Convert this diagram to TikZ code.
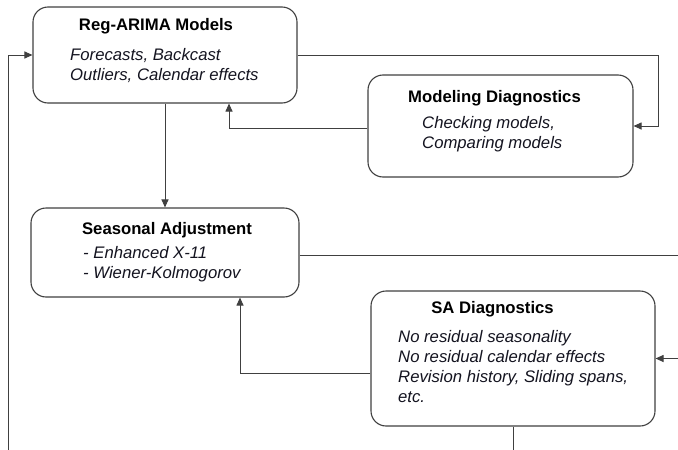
\documentclass[tikz,border=0pt]{standalone}
\usepackage{fontspec}
\setmainfont{Liberation Sans}
\usetikzlibrary{arrows.meta,calc}
\definecolor{linec}{HTML}{404040}
\definecolor{txt}{HTML}{141420}
\tikzset{
  box/.style={draw=linec, line width=1.1pt, rounded corners=15pt, fill=white, inner sep=0pt},
  ttl/.style={font=\fontsize{16.7}{20}\selectfont\bfseries, text=black, inner sep=0pt, anchor=base},
  body/.style={font=\fontsize{16.7}{20}\selectfont\itshape, text=txt, inner sep=0pt, anchor=base west, align=left},
  conn/.style={draw=linec, line width=1pt},
  arr/.style={conn, -{Triangle[length=8pt,width=7pt]}}
}
\begin{document}
\begin{tikzpicture}[x=1pt,y=-1pt]
\useasboundingbox (0,0) rectangle (678,450);
% boxes
\node[box, minimum width=264pt, minimum height=96pt] (ra) at (165,55) {};
\node[box, minimum width=265pt, minimum height=102pt] (md) at (500.5,126) {};
\node[box, minimum width=268pt, minimum height=89pt] (sa) at (165,252.5) {};
\node[box, minimum width=284pt, minimum height=135pt] (sad) at (513,358.5) {};
% texts (multi-line nodes anchored at last line's baseline)
\node[ttl] (raT) at (156,30) {Reg-ARIMA Models};
\node[body] (raB) at (70,80) {Forecasts, Backcast\\Outliers, Calendar effects};
\node[ttl] (mdT) at (494.5,102) {Modeling Diagnostics};
\node[body] (mdB) at (422,148) {Checking models,\\Comparing models};
\node[ttl] (saT) at (167,234) {Seasonal Adjustment};
\node[body] (saB) at (83,278) {- Enhanced X-11\\- Wiener-Kolmogorov};
\node[ttl] (sadT) at (492.5,313) {SA Diagnostics};
\node[body] (sadB) at (398,402) {No residual seasonality\\No residual calendar effects\\Revision history, Sliding spans,\\etc.};
% free ends
\coordinate (lb) at (8,450);
\coordinate (rt) at (658,55);
\coordinate (saR) at (678,255);
\coordinate (sadR) at (678,358.5);
\coordinate (sadB2) at (513,450);
% connectors
\draw[arr] (lb) |- (ra.west);
\draw[conn] (ra.east) -- (rt);
\draw[arr] (rt) |- (md.east);
\draw[arr] ([yshift=-2pt]md.west) -| ([xshift=64pt]ra.south);
\draw[arr] (ra.south) -- (sa.north);
\draw[conn] ([yshift=-2.5pt]sa.east) -- (saR);
\draw[arr] ([yshift=-14.5pt]sad.west) -| ([xshift=75pt]sa.south);
\draw[arr] (sadR) -- (sad.east);
\draw[conn] (sad.south) -- (sadB2);
\end{tikzpicture}
\end{document}
